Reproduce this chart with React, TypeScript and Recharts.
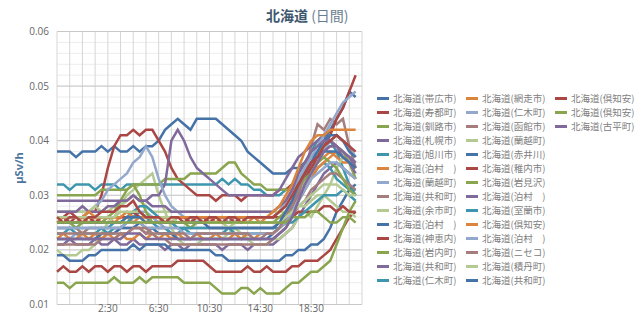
import React from 'react';
import { LineChart, Line, XAxis, YAxis, CartesianGrid, ReferenceLine } from 'recharts';

// half-hourly readings, 22:30 (previous day) .. 22:00
const TIMES = [
  '22:30', '23:00', '23:30', '0:00', '0:30', '1:00', '1:30', '2:00',
  '2:30', '3:00', '3:30', '4:00', '4:30', '5:00', '5:30', '6:00',
  '6:30', '7:00', '7:30', '8:00', '8:30', '9:00', '9:30', '10:00',
  '10:30', '11:00', '11:30', '12:00', '12:30', '13:00', '13:30', '14:00',
  '14:30', '15:00', '15:30', '16:00', '16:30', '17:00', '17:30', '18:00',
  '18:30', '19:00', '19:30', '20:00', '20:30', '21:00', '21:30', '22:00',
];
const X_LABELS = ['2:30', '6:30', '10:30', '14:30', '18:30'];
const Y_MAJOR = [10, 20, 30, 40, 50, 60]; // nSv/h, shown as μSv/h

const NAMES = [
  '北海道(帯広市)', '北海道(寿都町)', '北海道(釧路市)', '北海道(札幌市)', '北海道(旭川市)',
  '北海道(泊村　)', '北海道(蘭越町)', '北海道(共和町)', '北海道(余市町)', '北海道(泊村　)',
  '北海道(神恵内)', '北海道(岩内町)', '北海道(共和町)', '北海道(仁木町)', '北海道(網走市)',
  '北海道(仁木町)', '北海道(函館市)', '北海道(蘭越町)', '北海道(赤井川)', '北海道(稚内市)',
  '北海道(岩見沢)', '北海道(泊村　)', '北海道(室蘭市)', '北海道(倶知安)', '北海道(泊村　)',
  '北海道(ニセコ)', '北海道(積丹町)', '北海道(共和町)', '北海道(倶知安)', '北海道(倶知安)',
  '北海道(古平町)',
];

const PALETTE = ['#4572A7', '#AA4643', '#89A54E', '#80699B', '#3D96AE', '#DB843D', '#92A8CD', '#A47D7C', '#B5CA92'];

// values in nSv/h
const S0 = [38,38,38,37,38,38,38,39, 38,39,38,38,39,38,39,39, 40,42,43,44,43,42,44,44, 44,44,43,42,41,40,38,37, 36,35,34,34,34,35,35,36, 37,38,40,42,44,46,49,48];
const S1 = [16,17,16,16,17,16,17,17, 16,17,17,16,17,17,16,17, 17,17,17,18,18,18,18,18, 17,16,16,16,16,16,17,16, 16,17,16,16,16,17,17,18, 18,18,19,20,22,24,26,27];
const S2 = [14,14,13,14,14,14,14,14, 14,15,14,14,14,15,14,15, 15,15,15,15,14,14,14,14, 14,13,12,12,12,13,13,12, 13,12,12,12,13,14,14,15, 16,16,17,18,21,24,27,29];
const S3 = [21,21,22,21,21,21,22,21, 21,22,21,21,22,21,21,21, 21,20,21,21,20,21,21,21, 21,21,20,21,21,21,20,21, 21,21,21,22,23,24,26,28, 30,32,34,35,36,35,34,33];
const S4 = [32,32,31,32,32,32,31,32, 32,32,31,32,32,32,32,32, 32,32,32,32,32,32,32,32, 32,32,33,32,33,32,32,31, 31,30,30,30,31,32,34,36, 38,40,41,40,38,35,32,30];
const S5 = [25,26,25,25,26,25,26,25, 26,25,26,26,25,26,25,26, 25,26,25,26,26,25,26,25, 26,25,26,25,26,26,25,26, 25,26,26,27,29,31,33,34, 35,36,37,38,37,36,36,35];
const S6 = [22,22,22,23,22,22,22,22, 23,23,24,25,26,27,27,26, 25,24,23,22,22,22,22,22, 22,22,22,22,22,22,22,22, 22,22,22,23,24,26,29,32, 34,36,38,40,41,40,39,37];
const S7 = [24,24,24,24,23,24,24,24, 24,24,24,24,24,24,23,24, 24,24,24,24,24,24,24,24, 24,24,24,24,24,24,24,24, 24,24,24,25,26,28,30,34, 39,43,42,44,43,44,39,35];
const S8 = [20,19,19,19,20,20,21,23, 25,26,28,30,31,32,33,34, 30,27,24,22,21,21,21,22, 22,22,22,23,24,23,22,21, 21,21,22,22,23,24,26,27, 26,28,30,32,35,37,36,33];
const S9 = [19,19,18,18,18,19,19,20, 20,20,20,20,21,20,21,21, 21,21,20,20,20,20,20,20, 20,19,19,18,18,18,18,18, 18,18,18,18,19,19,20,20, 21,21,22,24,27,29,31,32];
const S10 = [26,26,27,26,26,27,27,30, 35,39,41,41,42,41,42,42, 40,38,35,33,32,31,30,30, 30,29,30,30,30,29,30,30, 30,30,30,31,31,32,32,33, 35,37,39,41,44,46,49,52];
const S11 = [30,30,30,30,30,30,30,31, 31,31,31,31,32,32,32,32, 32,33,33,33,33,34,34,34, 34,34,35,36,36,34,33,32, 32,31,31,31,31,31,32,34, 36,38,39,40,39,38,36,33];
const S12 = [29,29,29,29,29,29,29,29, 29,29,29,29,30,29,29,30, 30,32,40,42,40,37,35,34, 33,32,31,30,30,30,30,30, 30,30,30,31,33,35,37,38, 39,40,41,40,39,38,37,35];
const S13 = [23,23,24,23,23,23,23,24, 23,24,24,25,26,27,26,25, 24,24,23,23,24,23,23,23, 23,23,23,24,23,23,23,23, 23,23,23,24,25,27,29,31, 33,35,36,35,33,32,31,31];
const S14 = [22,23,22,22,23,22,23,22, 23,22,23,22,22,23,22,23, 22,23,22,23,22,22,23,22, 22,23,22,22,23,22,23,22, 23,23,23,24,25,27,29,31, 33,35,36,37,38,37,36,35];
const S15 = [27,27,27,27,27,27,28,29, 31,32,33,34,36,37,39,37, 33,30,28,27,26,26,25,26, 26,26,26,25,26,26,26,26, 26,26,26,27,29,31,33,35, 37,39,41,43,45,47,48,49];
const S16 = [21,21,21,21,21,21,21,22, 22,22,23,23,24,24,23,23, 22,22,21,21,21,21,21,21, 21,21,21,21,21,21,21,21, 21,21,22,23,24,26,28,29, 31,32,33,34,34,33,32,31];
const S17 = [27,27,27,27,27,27,28,27, 27,28,28,29,30,29,28,27, 27,27,27,27,27,27,27,27, 27,27,27,27,27,27,27,27, 27,27,27,27,27,28,28,28, 29,30,30,29,28,27,27,26];
const S18 = [22,22,22,22,22,22,22,23, 23,23,24,24,24,25,24,24, 23,23,23,22,22,22,22,22, 22,22,22,22,22,22,22,22, 22,22,23,24,26,28,31,34, 36,38,40,41,41,40,38,37];
const S19 = [26,26,25,26,26,26,25,26, 26,26,26,26,27,26,26,26, 26,26,26,26,26,25,26,26, 25,26,26,26,25,26,26,26, 26,26,26,26,26,26,27,27, 27,27,28,28,27,28,27,27];
const S20 = [25,25,25,24,25,25,25,25, 26,27,29,31,32,30,27,25, 25,25,25,25,25,24,25,25, 25,25,25,25,25,25,25,25, 25,25,25,26,27,29,31,33, 34,36,37,36,35,33,31,30];
const S21 = [27,27,27,27,28,27,27,27, 28,28,29,29,30,29,29,28, 28,28,27,27,27,27,27,27, 27,27,27,27,27,27,27,27, 27,27,27,28,29,31,34,36, 38,39,40,40,39,37,36,34];
const S22 = [24,24,24,24,24,24,24,24, 24,25,25,26,27,28,28,27, 26,25,25,24,24,24,24,24, 24,24,24,24,24,24,24,24, 24,24,24,24,25,25,26,27, 28,29,30,30,30,31,30,29];
const S23 = [26,26,26,26,26,27,26,26, 26,26,26,27,26,26,26,26, 26,26,26,26,26,26,26,26, 26,26,26,26,26,26,26,26, 26,26,27,28,30,32,35,38, 40,41,41,42,42,42,42,42];
const S24 = [24,24,24,24,24,24,24,24, 24,24,24,25,25,25,24,24, 24,24,24,24,23,23,23,23, 23,23,23,23,23,23,23,23, 23,23,23,24,25,27,29,31, 33,34,35,36,36,35,34,33];
const S25 = [23,23,23,23,23,23,23,23, 23,23,23,23,24,24,24,23, 23,23,23,23,23,22,23,23, 23,23,23,23,23,23,23,22, 22,23,23,24,26,28,31,34, 36,37,38,39,39,38,37,36];
const S26 = [26,26,26,26,26,26,26,26, 26,26,27,27,27,27,26,26, 26,26,26,25,25,25,25,25, 25,25,25,24,25,25,25,25, 25,25,25,25,26,27,28,29, 30,31,32,32,32,31,30,30];
const S27 = [25,25,25,25,25,25,25,25, 25,25,25,26,26,26,25,25, 25,25,25,25,25,25,25,25, 24,24,24,24,24,24,24,24, 24,24,24,25,27,29,32,34, 36,37,38,38,38,37,36,35];
const S28 = [26,25,26,26,25,26,26,27, 27,27,28,28,29,27,26,26, 26,25,26,26,25,26,26,25, 26,26,25,26,26,25,26,26, 26,26,26,27,28,30,32,34, 36,37,39,40,41,40,39,38];
const S29 = [25,25,25,25,25,25,25,25, 25,25,25,25,25,25,25,25, 25,25,25,25,25,25,25,25, 25,25,25,25,25,25,25,25, 25,25,25,25,25,26,26,26, 27,27,26,25,25,26,26,25];
const S30 = [22,22,22,22,22,22,22,22, 22,22,22,23,23,23,22,22, 22,22,22,22,22,22,22,22, 22,22,22,22,22,22,22,22, 22,22,22,23,24,26,29,32, 34,36,38,39,39,38,37,36];

const SERIES = [
  S0, S1, S2, S3, S4, S5, S6, S7, S8, S9, S10, S11, S12, S13, S14, S15,
  S16, S17, S18, S19, S20, S21, S22, S23, S24, S25, S26, S27, S28, S29, S30,
];

// hours since 22:30
const toHours = (s: string) => {
  const [h, m] = s.split(':').map(Number);
  return ((h * 60 + m - 1350 + 1440) % 1440) / 60;
};
const fromHours = (v: number) => {
  const mins = Math.round(1350 + v * 60) % 1440;
  return `${Math.floor(mins / 60)}:${String(mins % 60).padStart(2, '0')}`;
};

const data = TIMES.map((time, i) => {
  const row: Record<string, number> = { t: toHours(time) };
  SERIES.forEach((s, j) => {
    row[`s${j}`] = s[i];
  });
  return row;
});

const hourTicks = Array.from({ length: 25 }, (_, i) => i);
const yTicks = Array.from({ length: 26 }, (_, i) => 10 + i * 2);

const fontFamily = '"Open Sans", "Noto Sans CJK JP", sans-serif';

export default function App() {
  return (
    <div
      style={{
        position: 'absolute',
        left: 0,
        top: 0,
        width: 640,
        height: 316,
        background: '#fff',
        fontFamily,
      }}
    >
      <div
        style={{
          position: 'absolute',
          left: 266,
          top: 6,
          fontSize: 14,
          lineHeight: '18px',
          whiteSpace: 'nowrap',
          fontFamily: '"Noto Sans CJK JP", sans-serif',
        }}
      >
        <span style={{ fontWeight: 'bold', color: '#3E576F' }}>北海道</span>
        <span style={{ color: '#6a7d90' }}> (日間)</span>
      </div>

      <div
        style={{
          position: 'absolute',
          left: 18,
          top: 168,
          transform: 'translate(-50%, -50%) rotate(-90deg)',
          fontSize: 11,
          fontWeight: 'bold',
          color: '#4d759e',
          whiteSpace: 'nowrap',
        }}
      >
        μSv/h
      </div>

      <LineChart
        width={640}
        height={316}
        data={data}
        margin={{ top: 31.5, right: 278, bottom: 0, left: 0 }}
      >
        <CartesianGrid vertical={false} stroke="#ececec" />
        <CartesianGrid horizontal={false} stroke="#d6d6d6" />
        {Y_MAJOR.map((y) => (
          <ReferenceLine key={y} y={y} stroke="#c8c8c8" />
        ))}
        <XAxis
          type="number"
          dataKey="t"
          domain={[0, 24]}
          ticks={hourTicks}
          interval={0}
          height={11.5}
          axisLine={false}
          tickLine={false}
          tickSize={0}
          tickMargin={0}
          tick={{ fontSize: 10, fill: '#666' }}
          tickFormatter={(v: number) => (X_LABELS.includes(fromHours(v)) ? fromHours(v) : '')}
        />
        <YAxis
          type="number"
          domain={[10, 60]}
          ticks={yTicks}
          interval={0}
          width={57}
          axisLine={false}
          tickLine={false}
          tickSize={0}
          tickMargin={8}
          tick={{ fontSize: 10, fill: '#666' }}
          tickFormatter={(v: number) => (Y_MAJOR.includes(v) ? (v / 1000).toFixed(2) : '')}
        />
        {NAMES.map((name, i) => (
          <Line
            key={i}
            type="linear"
            dataKey={`s${i}`}
            name={name}
            stroke={PALETTE[i % PALETTE.length]}
            strokeWidth={2.5}
            dot={false}
            activeDot={false}
            isAnimationActive={false}
          />
        ))}
      </LineChart>

      {/* legend, column-major like the original */}
      <div
        style={{
          position: 'absolute',
          left: 377,
          top: 91,
          display: 'grid',
          gridAutoFlow: 'column',
          gridTemplateRows: 'repeat(14, 14px)',
          gridAutoColumns: '89px',
          fontFamily: '"Noto Sans CJK JP", sans-serif',
        }}
      >
        {NAMES.map((name, i) => (
          <div key={i} style={{ display: 'flex', alignItems: 'center', height: 14, whiteSpace: 'nowrap' }}>
            <span
              style={{
                width: 12,
                height: 3,
                background: PALETTE[i % PALETTE.length],
                marginRight: 4,
                flex: 'none',
              }}
            />
            <span style={{ fontSize: 9.5, color: '#808080' }}>{name}</span>
          </div>
        ))}
      </div>
    </div>
  );
}
